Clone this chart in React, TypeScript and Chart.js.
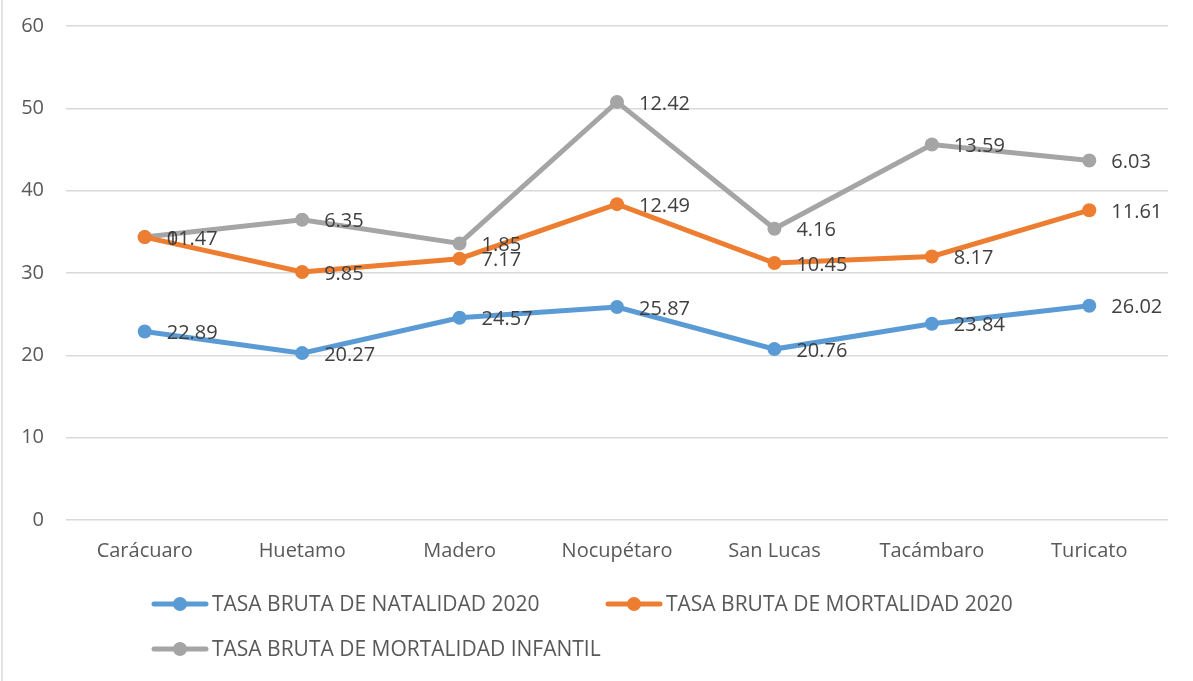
import React, { useEffect, useRef } from "react";
import { Chart, registerables } from "chart.js";

Chart.register(...registerables);

const categories = ["Carácuaro", "Huetamo", "Madero", "Nocupétaro", "San Lucas", "Tacámbaro", "Turicato"];
const natalidad = [22.89, 20.27, 24.57, 25.87, 20.76, 23.84, 26.02];
const mortalidad = [11.47, 9.85, 7.17, 12.49, 10.45, 8.17, 11.61];
const mortalidadInfantil = [0, 6.35, 1.85, 12.42, 4.16, 13.59, 6.03];
const yTicks = [0, 10, 20, 30, 40, 50, 60];

const seriesNames = [
  "TASA BRUTA DE NATALIDAD 2020",
  "TASA BRUTA DE MORTALIDAD 2020",
  "TASA BRUTA DE MORTALIDAD INFANTIL",
];
const colors = ["#5B9BD5", "#ED7D31", "#A5A5A5"];
const FONT = "'Open Sans', 'Noto Sans', sans-serif";

export default function App() {
  const ref = useRef<HTMLCanvasElement | null>(null);
  useEffect(() => {
    if (!ref.current) return;
    const labelsPlugin = {
      id: "labelsAndLegend",
      afterDatasetsDraw(chart: any) {
        const ctx = chart.ctx;
        ctx.save();
        ctx.font = `20px ${FONT}`;
        ctx.fillStyle = "#404040";
        ctx.textAlign = "left";
        ctx.textBaseline = "middle";
        chart.data.datasets.forEach((ds: any, i: number) => {
          const meta = chart.getDatasetMeta(i);
          meta.data.forEach((pt: any, j: number) => {
            ctx.fillText(String(ds.data[j]), pt.x + 22, pt.y + 2);
          });
        });
        ctx.restore();
      },
      afterDraw(chart: any) {
        const ctx = chart.ctx;
        ctx.save();
        ctx.strokeStyle = "#d9d9d9";
        ctx.lineWidth = 1.5;
        ctx.beginPath();
        ctx.moveTo(2, 0);
        ctx.lineTo(2, chart.height);
        ctx.stroke();
        const items = [
          { x: 152, y: 604 },
          { x: 606, y: 604 },
          { x: 152, y: 649 },
        ];
        items.forEach((it, i) => {
          ctx.strokeStyle = colors[i];
          ctx.lineWidth = 5;
          ctx.lineCap = "round";
          ctx.beginPath();
          ctx.moveTo(it.x + 2, it.y);
          ctx.lineTo(it.x + 54, it.y);
          ctx.stroke();
          ctx.fillStyle = colors[i];
          ctx.beginPath();
          ctx.arc(it.x + 28, it.y, 7, 0, Math.PI * 2);
          ctx.fill();
          ctx.fillStyle = "#595959";
          ctx.font = `21px ${FONT}`;
          ctx.textAlign = "left";
          ctx.textBaseline = "middle";
          ctx.fillText(seriesNames[i], it.x + 60, it.y + 1);
        });
        ctx.restore();
      },
    };
    const data = [natalidad, mortalidad, mortalidadInfantil];
    const chart = new Chart(ref.current, {
      type: "line",
      data: {
        labels: categories,
        datasets: data.map((d, i) => ({
          label: seriesNames[i],
          data: d,
          borderColor: colors[i],
          backgroundColor: colors[i],
          borderWidth: 5,
          pointRadius: 7,
          pointBackgroundColor: colors[i],
          pointBorderColor: colors[i],
          pointBorderWidth: 0,
          fill: false,
          tension: 0,
        })),
      },
      options: {
        animation: false,
        responsive: false,
        maintainAspectRatio: false,
        layout: { padding: { left: 0, right: 25, top: 26, bottom: 0 } },
        plugins: { legend: { display: false }, tooltip: { enabled: false } },
        scales: {
          x: {
            offset: true,
            grid: { display: false, drawTicks: false },
            border: { display: false },
            ticks: { color: "#595959", font: { family: FONT, size: 20 }, padding: 19 },
            afterFit: (s: any) => { s.height = 161; s.paddingLeft = 0; s.paddingRight = 0; },
          },
          y: {
            stacked: true,
            min: 0,
            max: 60,
            afterBuildTicks: (s: any) => { s.ticks = yTicks.map((v) => ({ value: v })); },
            grid: { color: "#d9d9d9", lineWidth: 1.5, drawTicks: false },
            border: { display: false },
            ticks: { color: "#595959", font: { family: FONT, size: 20 }, padding: 22 },
            afterFit: (s: any) => { s.width = 66; s.paddingTop = 0; s.paddingBottom = 0; },
          },
        },
      },
      plugins: [labelsPlugin],
    });
    return () => chart.destroy();
  }, []);
  return (
    <div style={{ position: "fixed", left: 0, top: 0, width: 1193, height: 681, background: "#fff" }}>
      <canvas ref={ref} width={1193} height={681} style={{ width: 1193, height: 681 }} />
    </div>
  );
}
